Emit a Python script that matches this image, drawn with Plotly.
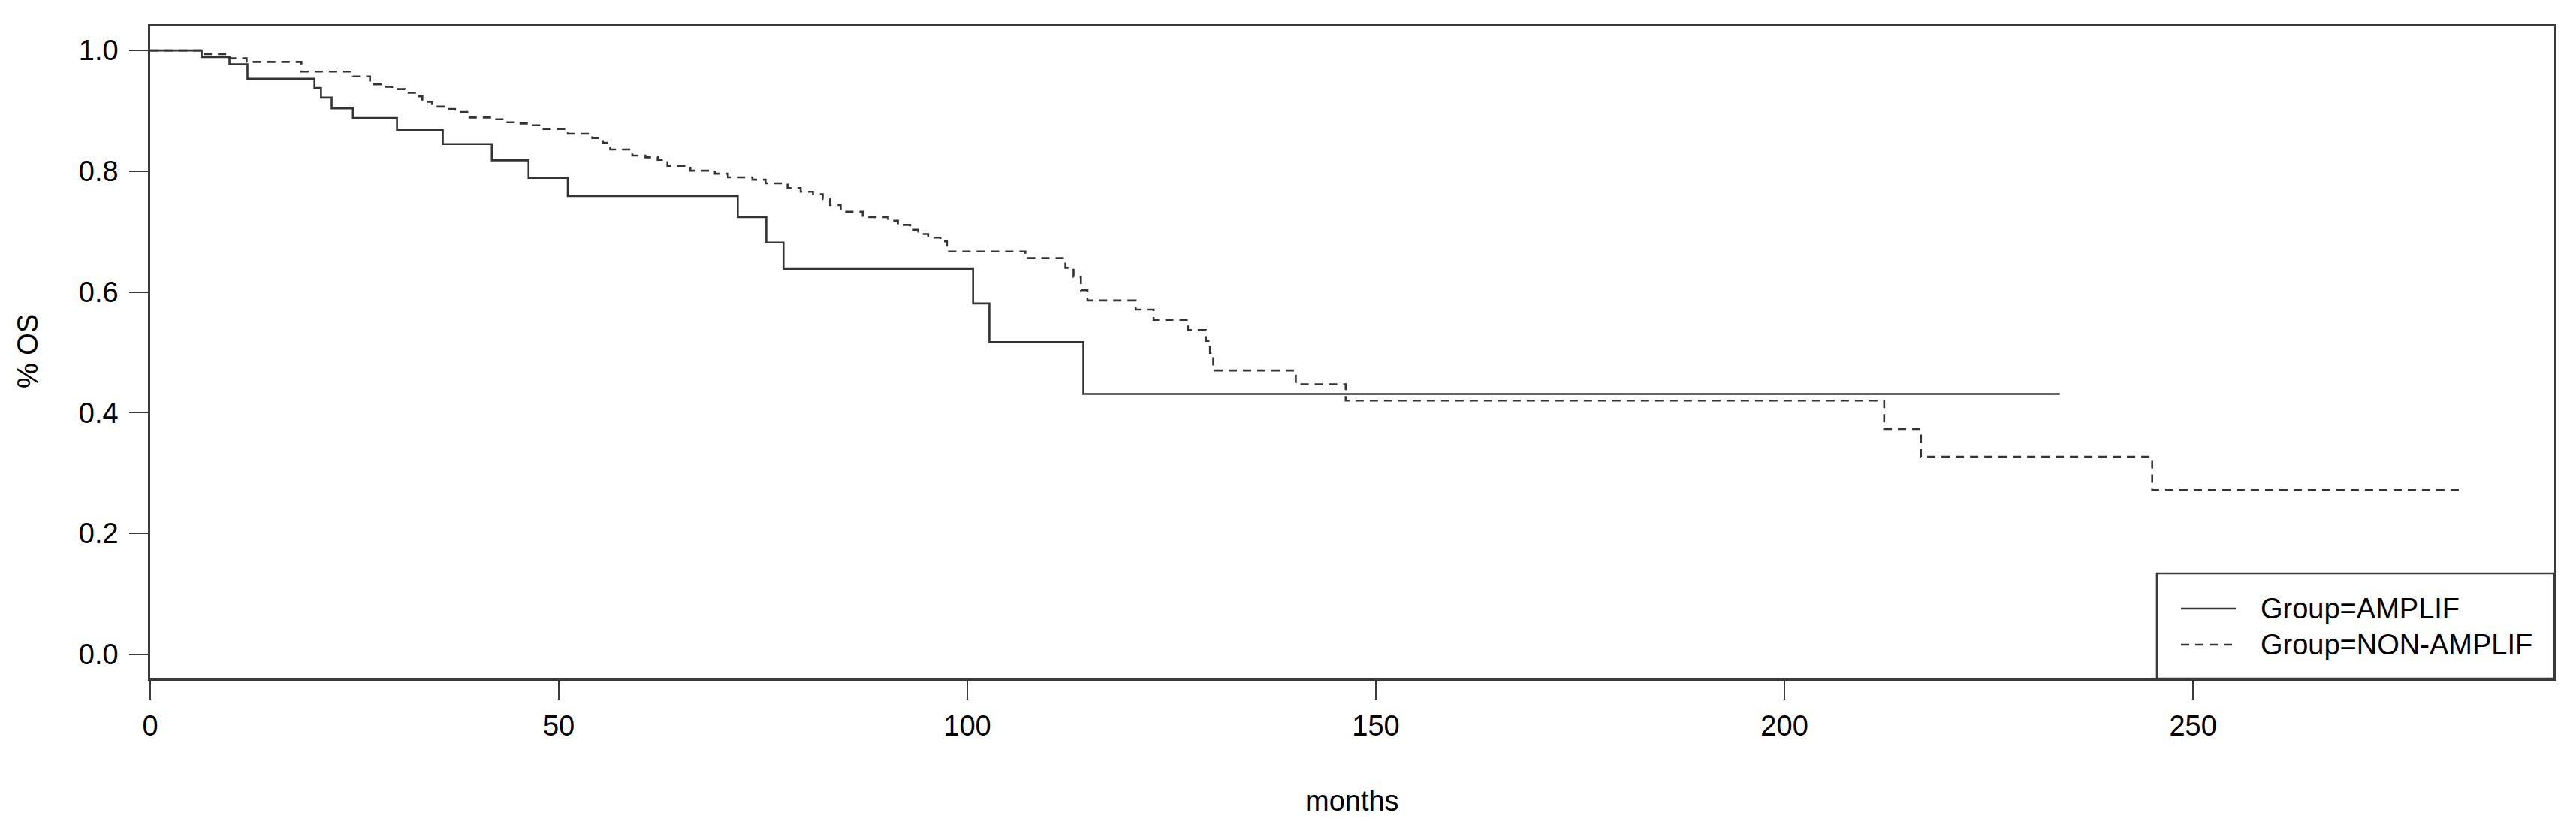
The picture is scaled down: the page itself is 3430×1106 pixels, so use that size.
import plotly.graph_objects as go

# ---- data ----
amplif_time = [0, 6.3, 9.7, 11.9, 20.1, 20.9, 22.2, 24.8, 30.2, 35.8, 41.8, 46.3,
               51.1, 71.9, 75.4, 77.5, 100.7, 102.7, 114.2, 233.7]
amplif_surv = [1.0, 0.989, 0.977, 0.953, 0.938, 0.922, 0.904, 0.888, 0.868, 0.845,
               0.818, 0.789, 0.759, 0.724, 0.682, 0.638, 0.581, 0.517, 0.431, 0.431]

non_time = [0, 6.3, 9.7, 11.8, 18.5, 24.8, 26.9, 28.4, 29.6, 31.2, 32.4, 33.3, 34.5,
            36.1, 37.3, 38.8, 42.2, 43.4, 45.0, 46.5, 48.0, 51.1, 54.1, 55.4, 56.3,
            59.0, 60.6, 62.1, 63.3, 66.1, 69.1, 70.7, 73.7, 75.3, 78.0, 79.6, 81.1,
            82.3, 83.2, 84.5, 87.2, 90.3, 91.5, 93.0, 94.0, 95.2, 96.7, 97.5, 107.1,
            112.0, 113.0, 113.9, 114.7, 120.6, 122.8, 127.0, 129.2, 129.7, 130.1,
            140.2, 146.3, 212.2, 216.7, 245.0, 283.1]
non_surv = [1.0, 0.994, 0.987, 0.981, 0.965, 0.957, 0.944, 0.940, 0.936, 0.930, 0.924,
            0.915, 0.907, 0.903, 0.898, 0.889, 0.886, 0.881, 0.879, 0.876, 0.870, 0.862,
            0.855, 0.847, 0.836, 0.826, 0.823, 0.819, 0.809, 0.801, 0.796, 0.790, 0.786,
            0.780, 0.772, 0.766, 0.762, 0.754, 0.744, 0.733, 0.724, 0.718, 0.711, 0.703,
            0.696, 0.690, 0.684, 0.667, 0.656, 0.640, 0.625, 0.603, 0.586, 0.571, 0.554,
            0.537, 0.519, 0.499, 0.470, 0.447, 0.420, 0.373, 0.327, 0.272, 0.272]

group_names = ["Group=AMPLIF", "Group=NON-AMPLIF"]
x_ticks = [0, 50, 100, 150, 200, 250]
y_ticks = [0.0, 0.2, 0.4, 0.6, 0.8, 1.0]
x_label = "months"
y_label = "% OS"

FONT = "Liberation Sans, Arial, Helvetica, sans-serif"
FS = 38
LINE_COL = "#333333"
AX_COL = "#3a3a3a"

fig = go.Figure()
fig.add_trace(go.Scatter(x=amplif_time, y=amplif_surv, mode="lines", line_shape="hv",
                         line=dict(color=LINE_COL, width=2.6), name=group_names[0],
                         showlegend=False))
fig.add_trace(go.Scatter(x=non_time, y=non_surv, mode="lines", line_shape="hv",
                         line=dict(color=LINE_COL, width=2.6, dash="11px,8px"),
                         name=group_names[1], showlegend=False))

axis_common = dict(showgrid=False, zeroline=False, showline=True, mirror=True,
                   linecolor=AX_COL, linewidth=2.6, ticks="outside", ticklen=25,
                   tickwidth=2.4, tickcolor=AX_COL,
                   tickfont=dict(family=FONT, size=FS, color="black"))

fig.update_xaxes(range=[0, 294.2], tickvals=x_ticks, ticklabelstandoff=3, **axis_common)
fig.update_yaxes(range=[-0.04, 1.04], tickvals=y_ticks, tickformat=".1f",
                 ticklabelstandoff=7, **axis_common)

# legend drawn like R's legend box (bottom-right, touching plot frame)
W = 3201.0
H = 868.0
def px(X):
    return (X - 200) / W
def py(Y):
    return (903 - Y) / H

shapes = [
    dict(type="rect", xref="paper", yref="paper", x0=px(2872), x1=1.0, y0=0.0, y1=py(763),
         line=dict(color=AX_COL, width=2.6), fillcolor="white", layer="above"),
    dict(type="line", xref="paper", yref="paper", x0=px(2904), x1=px(2977), y0=py(810), y1=py(810),
         line=dict(color=LINE_COL, width=2.6)),
    dict(type="line", xref="paper", yref="paper", x0=px(2904), x1=px(2977), y0=py(858), y1=py(858),
         line=dict(color=LINE_COL, width=2.6, dash="11px,8px")),
]
annotations = [
    dict(text=group_names[0], xref="paper", yref="paper", x=px(3008), y=py(810),
         xanchor="left", yanchor="middle", showarrow=False,
         font=dict(family=FONT, size=FS, color="black")),
    dict(text=group_names[1], xref="paper", yref="paper", x=px(3008), y=py(858),
         xanchor="left", yanchor="middle", showarrow=False,
         font=dict(family=FONT, size=FS, color="black")),
    dict(text=x_label, xref="paper", yref="paper", x=0.5, y=py(1066),
         xanchor="center", yanchor="middle", showarrow=False,
         font=dict(family=FONT, size=FS, color="black")),
    dict(text=y_label, xref="paper", yref="paper", x=px(37), y=py(468), textangle=-90,
         xanchor="center", yanchor="middle", showarrow=False,
         font=dict(family=FONT, size=FS, color="black")),
]

fig.update_layout(width=3430, height=1106, paper_bgcolor="white", plot_bgcolor="white",
                  margin=dict(l=200, r=29, t=35, b=203),
                  shapes=shapes, annotations=annotations, showlegend=False,
                  font=dict(family=FONT, size=FS, color="black"))

fig.write_html("out.html", config={"displayModeBar": False},
               post_script="document.body.style.margin='0';")
